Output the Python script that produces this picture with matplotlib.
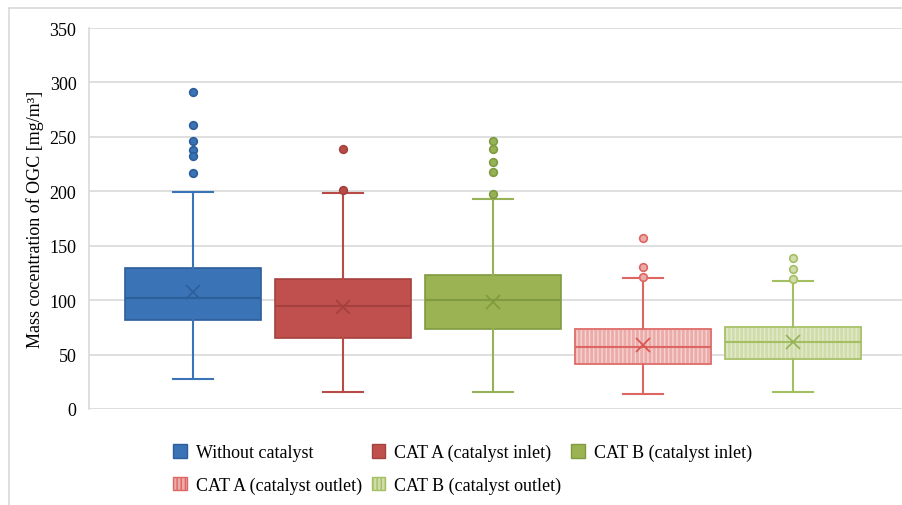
import matplotlib
matplotlib.use('Agg')
import matplotlib.pyplot as plt
from matplotlib.patches import Patch, PathPatch
from matplotlib.lines import Line2D

plt.rcParams['font.family'] = ['Liberation Serif', 'DejaVu Serif']
plt.rcParams['hatch.linewidth'] = 1.0

# ── Datos ───────────────────────────────────────────────────────────────────
series = ['Without catalyst', 'CAT A (catalyst inlet)', 'CAT B (catalyst inlet)',
          'CAT A (catalyst outlet)', 'CAT B (catalyst outlet)']
whislo = [27.5, 15.6, 16.0, 14.1, 16.0]
q1     = [81.8, 65.5, 73.5, 41.7, 45.6]
med    = [101.8, 95.0, 100.0, 57.2, 61.9]
q3     = [129.3, 119.1, 123.0, 73.5, 75.0]
whishi = [199.0, 198.4, 193.0, 120.6, 117.6]
mean   = [107.8, 94.0, 98.6, 59.0, 61.3]
fliers = [[291, 261, 246, 238, 232, 217],
          [239, 201],
          [246.5, 238.5, 227, 217.7, 197.5],
          [156.8, 130.7, 121.3],
          [138.7, 128.6, 119.1]]

# estilos por serie
fill   = ['#3B74B6', '#C0504D', '#9BB352', '#EBABA9', '#D0DCAA']
edge   = ['#2C5E9A', '#A4413E', '#7F9A40', '#DD6562', '#A3BF62']
line_c = ['#3B74B6', '#B84A47', '#96B257', '#DD6562', '#A3BF62']
xcol   = ['#2C5E9A', '#A4413E', '#7F9A40', '#D9534F', '#96B257']
hatch  = [None, None, None, '||||', '||||']
hatch_c = [None, None, None, '#F5D3D2', '#E3EACB']

stats = []
for i in range(len(series)):
    stats.append({'whislo': whislo[i], 'q1': q1[i], 'med': med[i], 'q3': q3[i],
                  'whishi': whishi[i], 'mean': mean[i], 'fliers': fliers[i]})

fig = plt.figure(figsize=(9.03, 5.06), dpi=100)
ax = fig.add_axes([89/903, 1-410/506, 1-89/903, (410-29)/506])

pos = list(range(len(series)))
for i in pos:
    b = ax.bxp([stats[i]], positions=[i], widths=0.91, capwidths=0.27,
               patch_artist=True, showmeans=True,
               boxprops=dict(facecolor=fill[i],
                             edgecolor=hatch_c[i] if hatch[i] else edge[i],
                             linewidth=1.2, hatch=hatch[i]),
               medianprops=dict(color=edge[i], linewidth=1.5),
               whiskerprops=dict(color=line_c[i], linewidth=1.5),
               capprops=dict(color=line_c[i], linewidth=1.5),
               meanprops=dict(marker='x', markeredgecolor=xcol[i],
                              markersize=10, markeredgewidth=1.2),
               flierprops=dict(marker='o', markerfacecolor=fill[i] if hatch[i] else line_c[i],
                               markeredgecolor=edge[i], markersize=5.5,
                               markeredgewidth=1.2))
    if hatch[i]:
        box = b['boxes'][0]
        ax.add_patch(PathPatch(box.get_path(), facecolor='none',
                               edgecolor=edge[i], linewidth=1.2, zorder=box.get_zorder()))

ax.set_xlim(-0.6933, 4.733)
ax.set_ylim(0, 350)
ax.set_yticks(range(0, 351, 50))
ax.set_xticks([])
ax.yaxis.grid(True, color='#D9D9D9', linewidth=1.2)
ax.set_axisbelow(True)
for s in ['top', 'right', 'bottom']:
    ax.spines[s].set_visible(False)
ax.spines['left'].set_color('#D9D9D9')
ax.spines['left'].set_linewidth(1.2)
ax.tick_params(axis='y', length=0, pad=9, labelsize=13)
ax.set_ylabel('Mass cocentration of OGC [mg/m³]', fontsize=13, labelpad=4)

# leyenda en orden por filas
handles = []
for i in range(len(series)):
    handles.append(Patch(facecolor=fill[i], edgecolor=edge[i],
                         hatch=hatch[i], linewidth=1.0))
order = [0, 3, 1, 4, 2]
leg = fig.legend([handles[k] for k in order], [series[k] for k in order],
                 ncol=3, loc='upper left', bbox_to_anchor=(173/903, 1-445/506),
                 frameon=False, fontsize=13, handlelength=0.75, handleheight=0.75,
                 handletextpad=0.5, columnspacing=0.55, labelspacing=0.85,
                 borderaxespad=0, borderpad=0)

# marco exterior del gráfico
fig.add_artist(Line2D([9/903, 9/903], [0, 1-9/506], transform=fig.transFigure,
                      color='#D9D9D9', linewidth=1.2))
fig.add_artist(Line2D([9/903, 1], [1-9/506, 1-9/506], transform=fig.transFigure,
                      color='#D9D9D9', linewidth=1.2))

plt.savefig('out.png', dpi=100)
